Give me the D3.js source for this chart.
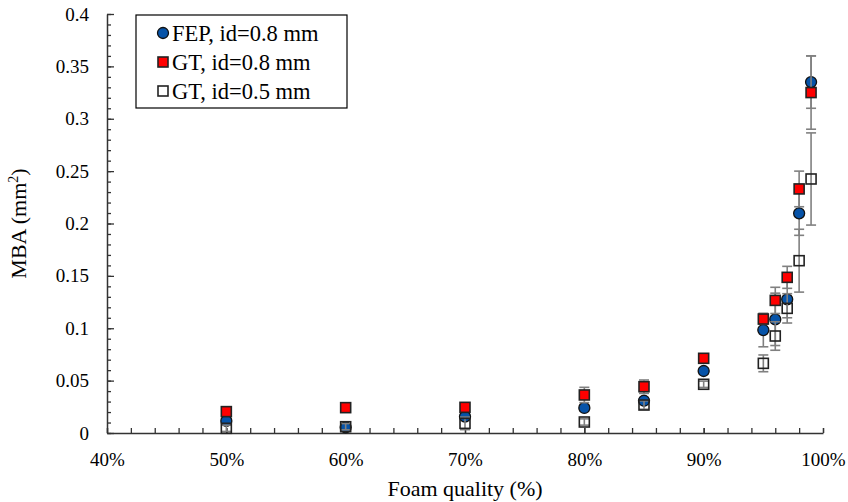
<!DOCTYPE html>
<html>
<head>
<meta charset="utf-8">
<script src="https://cdn.jsdelivr.net/npm/d3@7"></script>
<style>
  body { margin: 0; background: #fff; }
  svg { display: block; font-family: "Liberation Serif", "Times New Roman", serif; }
</style>
</head>
<body>
<svg width="848" height="502"></svg>
<script>
// ================= DATA ===================
const quality = [0.50, 0.60, 0.70, 0.80, 0.85, 0.90, 0.95, 0.96, 0.97, 0.98, 0.99];

const fepValues = [0.0115, 0.0054, 0.0156, 0.0239, 0.0308, 0.0592, 0.0983, 0.1085, 0.1276, 0.2097, 0.335];
const fepErrors = [0.002, 0.002, 0.003, 0.003, 0.003, 0.003, 0.016, 0.025, 0.0176, 0.021, 0.025];

const gt08Values = [0.0204, 0.0242, 0.0245, 0.0363, 0.0442, 0.0713, 0.1088, 0.1266, 0.1486, 0.233, 0.325];
const gt08Errors = [0.003, 0.002, 0.003, 0.0073, 0.0064, 0.003, 0.005, 0.0125, 0.0105, 0.017, 0.035];

const gt05Values = [0.0045, 0.006, 0.0092, 0.0105, 0.0267, 0.0465, 0.0665, 0.0926, 0.119, 0.1645, 0.2425];
const gt05Errors = [0.003, 0.003, 0.006, 0.003, 0.004, 0.003, 0.008, 0.0136, 0.014, 0.030, 0.044];

const seriesNames = ["FEP, id=0.8 mm", "GT, id=0.8 mm", "GT, id=0.5 mm"];

const xTicks = [0.4, 0.5, 0.6, 0.7, 0.8, 0.9, 1.0];
const yTicks = [0, 0.05, 0.1, 0.15, 0.2, 0.25, 0.3, 0.35, 0.4];

// ================= SETUP ===================
const svg = d3.select("svg");
const plot = { left: 107, right: 823, top: 14, bottom: 433 };

const x = d3.scaleLinear().domain([0.4, 1.0]).range([plot.left, plot.right]);
const y = d3.scaleLinear().domain([0, 0.4]).range([plot.bottom, plot.top]);

// hollow squares have no fill, so lines behind them show through
const series = [
  { name: seriesNames[0], values: fepValues, errors: fepErrors, shape: "circle", fill: "#0653a8" },
  { name: seriesNames[1], values: gt08Values, errors: gt08Errors, shape: "square", fill: "#ff0000" },
  { name: seriesNames[2], values: gt05Values, errors: gt05Errors, shape: "square", fill: "none" },
];

const axisColor = "#333";

// ================= AXES ===================
// minor ticks first (x every 2%, y every 0.01)
const xMinor = d3.range(0.4, 1.0001, 0.02);
const yMinor = d3.range(0, 0.4001, 0.01);

svg.append("g")
  .attr("transform", `translate(0,${plot.bottom})`)
  .call(d3.axisBottom(x).tickValues(xMinor).tickSize(-5).tickSizeOuter(0).tickFormat(""))
  .call((g) => g.select(".domain").remove())
  .call((g) => g.selectAll("line").attr("stroke", axisColor).attr("stroke-width", 1.3));

svg.append("g")
  .attr("transform", `translate(${plot.left},0)`)
  .call(d3.axisLeft(y).tickValues(yMinor).tickSize(-4).tickSizeOuter(0).tickFormat(""))
  .call((g) => g.select(".domain").remove())
  .call((g) => g.selectAll("line").attr("stroke", axisColor).attr("stroke-width", 1.3));

// major axes with labels
const xAxis = svg.append("g")
  .attr("transform", `translate(0,${plot.bottom})`)
  .call(d3.axisBottom(x).tickValues(xTicks).tickSize(-5).tickSizeOuter(0)
    .tickPadding(20).tickFormat(d3.format(".0%")));

const yAxis = svg.append("g")
  .attr("transform", `translate(${plot.left},0)`)
  .call(d3.axisLeft(y).tickValues(yTicks).tickSize(-7).tickSizeOuter(0)
    .tickPadding(18).tickFormat((d) => String(+d.toFixed(2))));

[xAxis, yAxis].forEach((g) => {
  g.select(".domain").attr("stroke", axisColor).attr("stroke-width", 1.5);
  g.selectAll("line").attr("stroke", axisColor).attr("stroke-width", 1.3);
  g.selectAll("text")
    .attr("fill", "#000")
    .attr("font-size", 19)
    .attr("font-family", '"Liberation Serif", serif');
});

// axis titles
svg.append("text")
  .attr("x", (plot.left + plot.right) / 2)
  .attr("y", 496)
  .attr("text-anchor", "middle")
  .attr("font-size", 22)
  .text("Foam quality (%)");

const yTitle = svg.append("text")
  .attr("transform", `translate(26,${(plot.top + plot.bottom) / 2}) rotate(-90)`)
  .attr("text-anchor", "middle")
  .attr("font-size", 22);
yTitle.append("tspan").text("MBA (mm");
yTitle.append("tspan").attr("font-size", 14).attr("dy", -8).text("2");
yTitle.append("tspan").attr("dy", 8).text(")");

// ================= SERIES ===================
const capHalf = 5;
const markerSize = 10;

function drawMarker(g, shape, fill) {
  if (shape === "circle") {
    g.append("circle")
      .attr("r", markerSize / 2 + 0.5)
      .attr("fill", fill)
      .attr("stroke", "#111")
      .attr("stroke-width", 1.3);
  } else {
    g.append("rect")
      .attr("x", -markerSize / 2)
      .attr("y", -markerSize / 2)
      .attr("width", markerSize)
      .attr("height", markerSize)
      .attr("fill", fill)
      .attr("stroke", "#222")
      .attr("stroke-width", 1.6);
  }
}

series.forEach((s) => {
  const pts = quality.map((q, i) => ({ q, v: s.values[i], e: s.errors[i] }));
  const sg = svg.append("g");

  // error bars
  const eb = sg.selectAll(".err")
    .data(pts)
    .join("g")
    .attr("class", "err")
    .attr("stroke", "#808080")
    .attr("stroke-width", 1.6);
  eb.append("line")
    .attr("x1", (d) => x(d.q)).attr("x2", (d) => x(d.q))
    .attr("y1", (d) => y(d.v + d.e)).attr("y2", (d) => y(d.v - d.e));
  eb.append("line")
    .attr("x1", (d) => x(d.q) - capHalf).attr("x2", (d) => x(d.q) + capHalf)
    .attr("y1", (d) => y(d.v + d.e)).attr("y2", (d) => y(d.v + d.e));
  eb.append("line")
    .attr("x1", (d) => x(d.q) - capHalf).attr("x2", (d) => x(d.q) + capHalf)
    .attr("y1", (d) => y(d.v - d.e)).attr("y2", (d) => y(d.v - d.e));

  // markers
  sg.selectAll(".pt")
    .data(pts)
    .join("g")
    .attr("class", "pt")
    .attr("transform", (d) => `translate(${x(d.q)},${y(d.v)})`)
    .each(function () { drawMarker(d3.select(this), s.shape, s.fill); });
});

// ================= LEGEND ===================
const legend = svg.append("g").attr("transform", "translate(136,15)");
legend.append("rect")
  .attr("width", 211).attr("height", 93)
  .attr("fill", "#fff")
  .attr("stroke", "#000")
  .attr("stroke-width", 1.2);

series.forEach((s, i) => {
  const row = legend.append("g").attr("transform", `translate(27,${18 + i * 29})`);
  drawMarker(row.append("g"), s.shape, s.fill);
  row.append("text")
    .attr("x", 9)
    .attr("dy", "0.35em")
    .attr("font-size", 22.5)
    .text(s.name);
});
</script>
</body>
</html>
